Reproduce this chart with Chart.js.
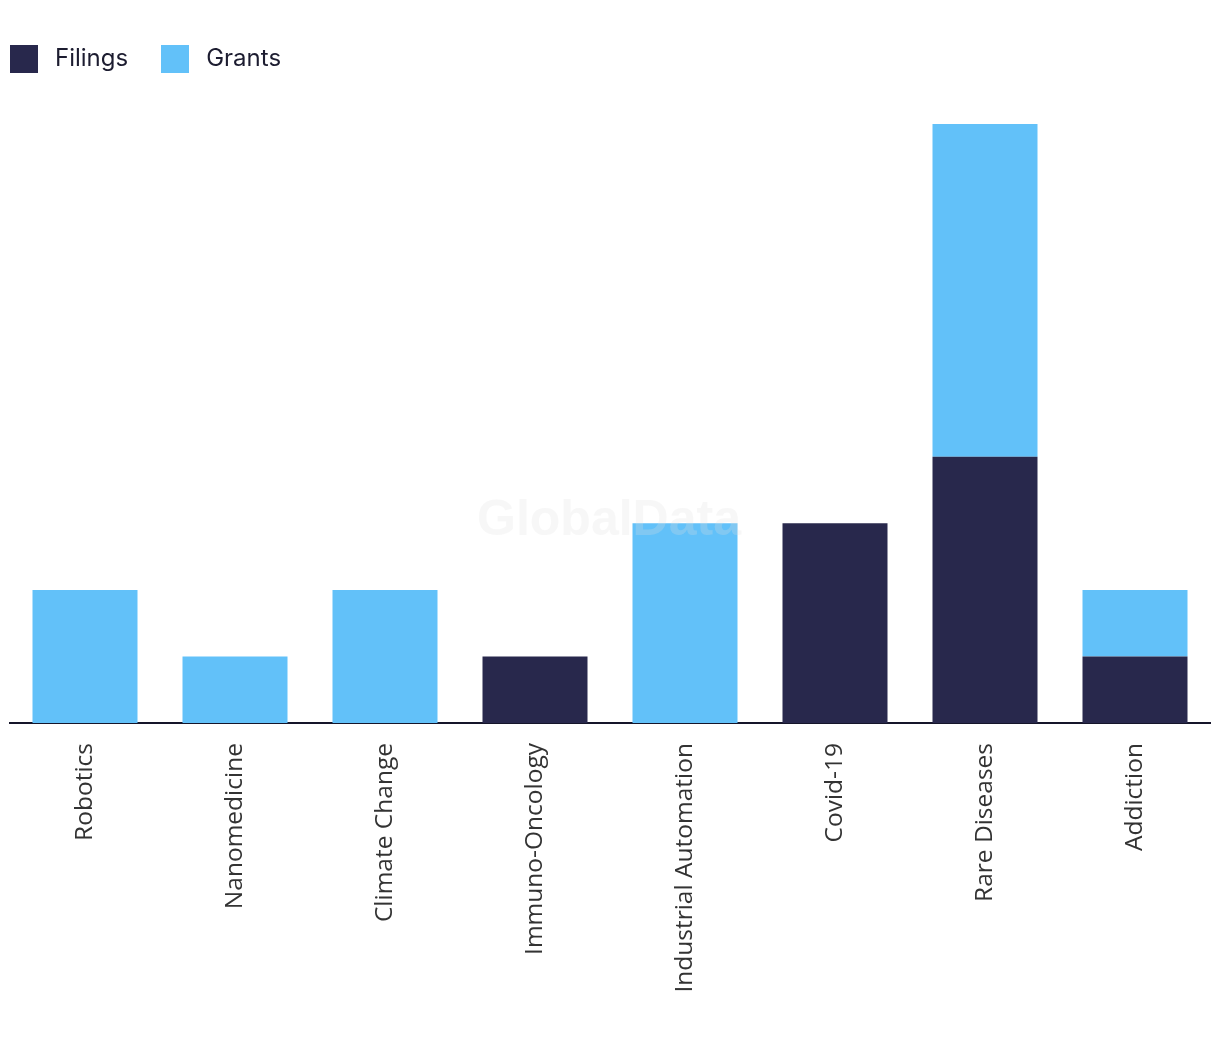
<!DOCTYPE html>
<html>
<head>
<meta charset="utf-8">
<script src="https://cdn.jsdelivr.net/npm/chart.js@4.4.1/dist/chart.umd.min.js"></script>
<style>
    html, body { margin: 0; padding: 0; background: #fff; }
    #wrap { position: relative; width: 1220px; height: 1042px; }
    #legend { position: absolute; left: 10px; top: 45px; display: flex; font-family: Inter, sans-serif; font-size: 24px; color: #1c1c30; }
    .item { display: flex; align-items: center; margin-right: 33px; height: 28px; line-height: 24px; }
    .item span { position: relative; top: -1px; }
    .swatch { width: 28px; height: 28px; margin-right: 17px; }
</style>
</head>
<body>
<div id="wrap">
    <div id="legend"></div>
    <canvas id="chart" width="1220" height="1042"></canvas>
</div>
<script>
var CATEGORIES = ['Robotics', 'Nanomedicine', 'Climate Change', 'Immuno-Oncology', 'Industrial Automation', 'Covid-19', 'Rare Diseases', 'Addiction'];
var FILINGS = [0, 0, 0, 1, 0, 3, 4, 1];
var GRANTS = [2, 1, 2, 0, 3, 0, 5, 1];
var SERIES = ['Filings', 'Grants'];
var SERIES_COLORS = ['#28284c', '#62c1f9'];

// legend in html so it can be placed exactly
var lhtml = '';
SERIES.forEach(function (s, i) {
    lhtml += '<div class="item"><div class="swatch" style="background:' + SERIES_COLORS[i] + '"></div><span>' + s + '</span></div>';
});
document.getElementById('legend').innerHTML = lhtml;

var watermark = {
    id: 'watermark',
    afterDatasetsDraw: function (chart) {
        var ctx = chart.ctx;
        ctx.save();
        ctx.font = 'bold 50px "Liberation Sans", Arial, sans-serif';
        ctx.fillStyle = 'rgba(225,225,225,0.25)';
        ctx.textAlign = 'center';
        ctx.textBaseline = 'middle';
        ctx.fillText('GlobalData', 609, 521);
        ctx.restore();
    }
};

new Chart(document.getElementById('chart'), {
    type: 'bar',
    data: {
        labels: CATEGORIES,
        datasets: [
            { label: SERIES[0], data: FILINGS, backgroundColor: SERIES_COLORS[0], borderWidth: 0 },
            { label: SERIES[1], data: GRANTS, backgroundColor: SERIES_COLORS[1], borderWidth: 0 }
        ]
    },
    options: {
        responsive: false,
        animation: false,
        layout: { padding: { left: 10, right: 10, top: 124, bottom: 0 } },
        datasets: { bar: { categoryPercentage: 1, barPercentage: 0.7 } },
        plugins: { legend: { display: false }, tooltip: { enabled: false } },
        scales: {
            x: {
                stacked: true,
                grid: { display: false },
                border: { display: true, color: '#15152a', width: 2 },
                ticks: { maxRotation: 90, minRotation: 90, padding: 12, color: '#333333',
                    font: { family: '"Open Sans", sans-serif', size: 24.5 } },
                afterFit: function (scale) { scale.height = 319; }
            },
            y: { stacked: true, display: false, min: 0, max: 9 }
        }
    },
    plugins: [watermark]
});
</script>
</body>
</html>
